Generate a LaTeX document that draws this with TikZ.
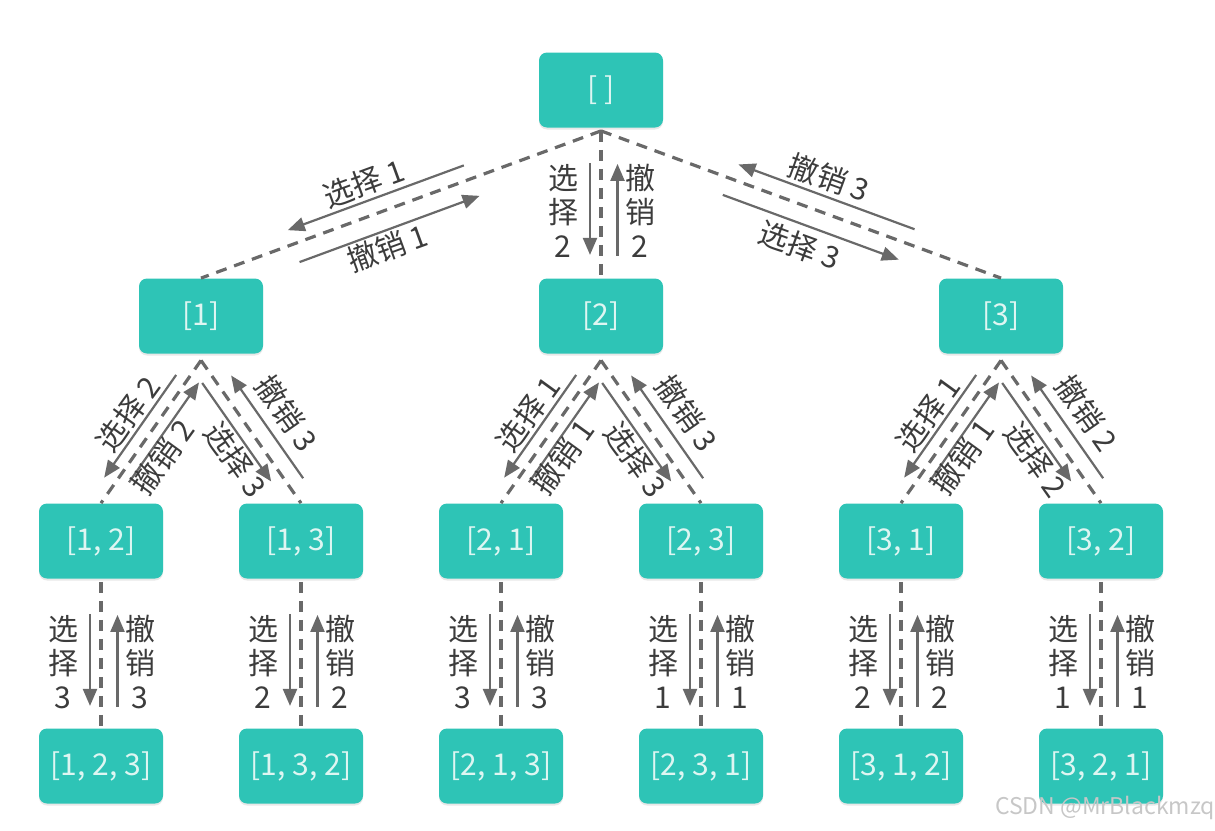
\documentclass[tikz,border=0pt]{standalone}
\usepackage{fontspec}
\setmainfont{Noto Sans CJK SC}
\usetikzlibrary{positioning, arrows.meta, calc, shadows}

\definecolor{boxgreen}{RGB}{46,196,182}
\definecolor{boxtext}{RGB}{222,246,242}
\definecolor{linegray}{RGB}{105,105,105}
\definecolor{textgray}{RGB}{60,60,60}

\tikzset{
  box/.style={fill=boxgreen, rounded corners=4pt, minimum width=62pt, minimum height=37.5pt, inner sep=0pt, text=boxtext, font=\fontsize{15}{17}\selectfont, drop shadow={shadow xshift=0pt, shadow yshift=-1pt, opacity=0.18}},
  link/.style={draw=linegray, line width=1.6pt, dash pattern=on 5.5pt off 4pt},
  move/.style={draw=linegray, line width=1.1pt, -{Triangle[length=8.5pt, width=7pt]}},
  lbl/.style={text=textgray, font=\fontsize{15}{17}\selectfont, inner sep=0pt, align=center}
}

\begin{document}
\begin{tikzpicture}[x=0.5pt, y=-0.5pt]
\useasboundingbox (0,0) rectangle (1215,830);

\node[box] (root) at (601,90) {[ ]};

\node[box] (n1) at (201,316) {[1]};
\node[box] (n2) at (601,316) {[2]};
\node[box] (n3) at (1001,316) {[3]};

\node[box] (n12) at (101,541) {[1, 2]};
\node[box] (n13) at (301,541) {[1, 3]};
\node[box] (n21) at (501,541) {[2, 1]};
\node[box] (n23) at (701,541) {[2, 3]};
\node[box] (n31) at (901,541) {[3, 1]};
\node[box] (n32) at (1101,541) {[3, 2]};

\node[box] (n123) at (101,766) {[1, 2, 3]};
\node[box] (n132) at (301,766) {[1, 3, 2]};
\node[box] (n213) at (501,766) {[2, 1, 3]};
\node[box] (n231) at (701,766) {[2, 3, 1]};
\node[box] (n312) at (901,766) {[3, 1, 2]};
\node[box] (n321) at (1101,766) {[3, 2, 1]};

\coordinate (top) at ([yshift=-1.5pt]root.south);
\draw[link] (top) -- (n1.north);
\draw[link] (top) -- (n3.north);

\draw[move] ($(top)!0.33!(n1.north)!7.5pt!270:(n1.north)$) -- ($(top)!0.77!(n1.north)!7.5pt!270:(n1.north)$);
\draw[move] ($(top)!0.77!(n1.north)!9.5pt!90:(n1.north)$) -- ($(top)!0.32!(n1.north)!9.5pt!90:(n1.north)$);
\node[lbl, rotate=20] (sn1) at ($(top)!0.565!(n1.north)!16.5pt!270:(n1.north)$) {选择 1};
\node[lbl, rotate=20] (un1) at ($(top)!0.565!(n1.north)!18pt!90:(n1.north)$) {撤销 1};

\draw[move] ($(top)!0.77!(n3.north)!8pt!90:(n3.north)$) -- ($(top)!0.33!(n3.north)!8pt!90:(n3.north)$);
\draw[move] ($(top)!0.32!(n3.north)!9pt!270:(n3.north)$) -- ($(top)!0.76!(n3.north)!9pt!270:(n3.north)$);
\node[lbl, rotate=-20] (un3) at ($(top)!0.54!(n3.north)!17.5pt!90:(n3.north)$) {撤销 3};
\node[lbl, rotate=-20] (sn3) at ($(top)!0.53!(n3.north)!19.5pt!270:(n3.north)$) {选择 3};

\foreach \parent/\child/\num in {root/n2/2, n12/n123/3, n13/n132/2, n21/n213/3, n23/n231/1, n31/n312/2, n32/n321/1}{
  \draw[link] ([yshift=-1.5pt]\parent.south) -- (\child.north);
  \draw[move] ([xshift=-5.5pt, yshift=-17.5pt]\parent.south) -- ([xshift=-5.5pt, yshift=-63.5pt]\parent.south);
  \draw[move] ([xshift=8.25pt, yshift=-64pt]\parent.south) -- ([xshift=8.25pt, yshift=-18pt]\parent.south);
  \node[lbl] (s\child) at ([xshift=-19pt, yshift=-41.5pt]\parent.south) {选\\择\\\num};
  \node[lbl] (u\child) at ([xshift=19.5pt, yshift=-41.5pt]\parent.south) {撤\\销\\\num};
}

\foreach \parent/\kidl/\kidr/\numl/\numr in {n1/n12/n13/2/3, n2/n21/n23/1/3, n3/n31/n32/1/2}{
  \coordinate (apex) at ([yshift=-3.25pt]\parent.south);
  \draw[link] (apex) -- (\kidl.north);
  \draw[link] (apex) -- (\kidr.north);
  \draw[move] ($(apex)!0.15!(\kidl.north)!6pt!270:(\kidl.north)$) -- ($(apex)!0.87!(\kidl.north)!6pt!270:(\kidl.north)$);
  \draw[move] ($(apex)!0.81!(\kidl.north)!5.5pt!90:(\kidl.north)$) -- ($(apex)!0.11!(\kidl.north)!5.5pt!90:(\kidl.north)$);
  \draw[move] ($(apex)!0.11!(\kidr.north)!6pt!270:(\kidr.north)$) -- ($(apex)!0.80!(\kidr.north)!6pt!270:(\kidr.north)$);
  \draw[move] ($(apex)!0.89!(\kidr.north)!8pt!90:(\kidr.north)$) -- ($(apex)!0.17!(\kidr.north)!8pt!90:(\kidr.north)$);
  \node[lbl, rotate=54] (s\kidl) at ($(apex)!0.49!(\kidl.north)!14.5pt!270:(\kidl.north)$) {选择 \numl};
  \node[lbl, rotate=54] (u\kidl) at ($(apex)!0.58!(\kidl.north)!12pt!90:(\kidl.north)$) {撤销 \numl};
  \node[lbl, rotate=-55] (s\kidr) at ($(apex)!0.58!(\kidr.north)!14.5pt!270:(\kidr.north)$) {选择 \numr};
  \node[lbl, rotate=-55] (u\kidr) at ($(apex)!0.53!(\kidr.north)!20pt!90:(\kidr.north)$) {撤销 \numr};
}

\node[text=black!22, font=\fontsize{11.5}{12}\selectfont] (wm) at (1105,808) {CSDN @MrBlackmzq};
\end{tikzpicture}
\end{document}
